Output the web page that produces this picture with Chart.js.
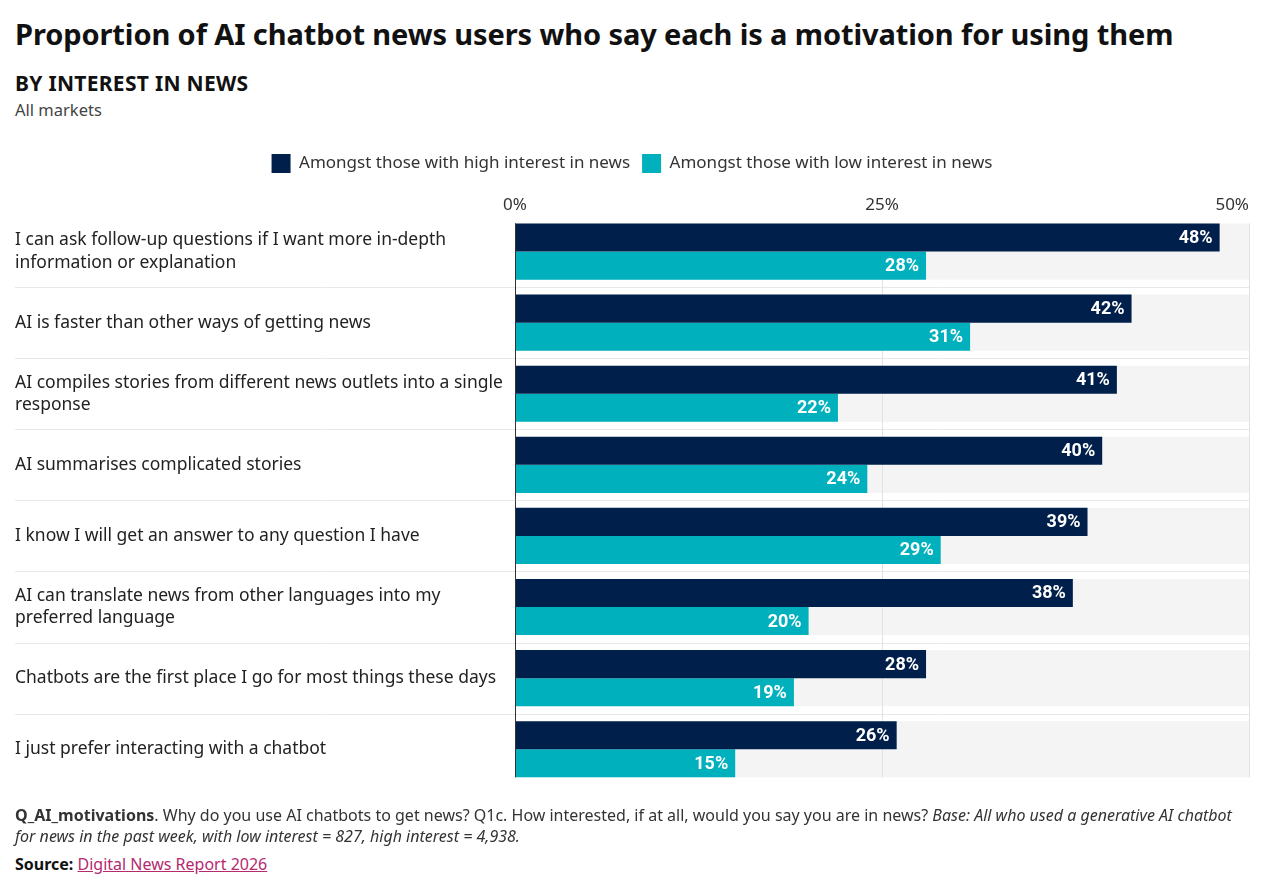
<!DOCTYPE html>
<html>
<head>
<meta charset="utf-8">
<script src="https://cdn.jsdelivr.net/npm/chart.js@4.4.1/dist/chart.umd.min.js"></script>
<style>
  body { margin: 0; background: #fff; font-family: "Noto Sans", sans-serif; color: #111; }
  .wrap { position: relative; width: 1280px; height: 882px; }
  h1 { position: absolute; left: 15px; top: 14px; margin: 0; font-size: 29px; font-weight: 700; color: #111; letter-spacing: -0.1px; }
  h2 { position: absolute; left: 15px; top: 69px; margin: 0; font-size: 21px; font-weight: 700; color: #111; letter-spacing: 0.3px; }
  .sub { position: absolute; left: 15px; top: 98px; font-size: 16.5px; color: #444; }
  .chart { position: absolute; left: 0; top: 142px; width: 1280px; height: 668px; }
  .note { position: absolute; left: 15px; top: 805px; width: 1240px; font-size: 16px; line-height: 21px; color: #333; }
  .src { position: absolute; left: 15px; top: 853px; font-size: 16px; color: #111; }
  .src a { color: #b5296f; }
</style>
</head>
<body>
<div class="wrap">
  <h1>Proportion of AI chatbot news users who say each is a motivation for using them</h1>
  <h2>BY INTEREST IN NEWS</h2>
  <div class="sub">All markets</div>
  <div class="chart"><canvas id="myChart"></canvas></div>
  <div class="note"><b>Q_AI_motivations</b>. Why do you use AI chatbots to get news? Q1c. How interested, if at all, would you say you are in news? <i>Base: All who used a generative AI chatbot for news in the past week, with low interest = 827, high interest = 4,938.</i></div>
  <div class="src"><b>Source:</b> <a href="#">Digital News Report 2026</a></div>
</div>
<script>
const motivations = [
    ['I can ask follow-up questions if I want more in-depth', 'information or explanation'],
    'AI is faster than other ways of getting news',
    ['AI compiles stories from different news outlets into a single', 'response'],
    'AI summarises complicated stories',
    'I know I will get an answer to any question I have',
    ['AI can translate news from other languages into my', 'preferred language'],
    'Chatbots are the first place I go for most things these days',
    'I just prefer interacting with a chatbot'
]
const highInterest = [48, 42, 41, 40, 39, 38, 28, 26]
const lowInterest = [28, 31, 22, 24, 29, 20, 19, 15]
const xTicks = [0, 25, 50]

const navy = '#00204b'
const teal = '#00b1bd'

// grey bands, separators, gridlines, 0% axis line, tick and value labels
const backdrop = {
    id: 'backdrop',
    beforeDatasetsDraw(chart) {
        const ctx = chart.ctx
        const x = chart.scales.x
        const hi = chart.getDatasetMeta(0).data
        const lo = chart.getDatasetMeta(1).data
        const x0 = x.getPixelForValue(0)
        const x50 = x.getPixelForValue(50)
        ctx.save()
        for (let i = 0; i < hi.length; i++) {
            const top = hi[i].y - hi[i].height / 2
            const bottom = lo[i].y + lo[i].height / 2
            ctx.fillStyle = '#f4f4f4'
            ctx.fillRect(x0, top, x50 - x0, bottom - top)
            if (i < hi.length - 1) {
                const next = hi[i + 1].y - hi[i + 1].height / 2
                const mid = Math.round((bottom + next) / 2) + 0.5
                ctx.strokeStyle = '#e8e8e8'
                ctx.lineWidth = 1
                ctx.beginPath()
                ctx.moveTo(15, mid)
                ctx.lineTo(x50, mid)
                ctx.stroke()
            }
        }
        ctx.strokeStyle = '#e2e2e2'
        for (const v of [25, 50]) {
            const px = Math.round(x.getPixelForValue(v)) + 0.5
            ctx.beginPath()
            ctx.moveTo(px, hi[0].y - hi[0].height / 2)
            ctx.lineTo(px, lo[lo.length - 1].y + lo[lo.length - 1].height / 2)
            ctx.stroke()
        }

        // x tick labels, last one kept inside the plot
        ctx.fillStyle = '#333'
        ctx.font = '17px "Noto Sans"'
        ctx.textBaseline = 'middle'
        xTicks.forEach(function (v, i) {
            ctx.textAlign = i === xTicks.length - 1 ? 'right' : 'center'
            ctx.fillText(v + '%', x.getPixelForValue(v), chart.chartArea.top - 11)
        })
        ctx.restore()
    },
    afterDatasetsDraw(chart) {
        const ctx = chart.ctx
        const x = chart.scales.x
        const hi = chart.getDatasetMeta(0).data
        const lo = chart.getDatasetMeta(1).data
        ctx.save()
        const px = Math.round(x.getPixelForValue(0)) + 0.5
        ctx.strokeStyle = '#333'
        ctx.lineWidth = 1
        ctx.beginPath()
        ctx.moveTo(px, hi[0].y - hi[0].height / 2)
        ctx.lineTo(px, lo[lo.length - 1].y + lo[lo.length - 1].height / 2)
        ctx.stroke()

        ctx.fillStyle = '#fff'
        ctx.font = 'bold 18px Roboto'
        ctx.textAlign = 'right'
        ctx.textBaseline = 'middle'
        chart.data.datasets.forEach(function (ds, d) {
            chart.getDatasetMeta(d).data.forEach(function (bar, i) {
                ctx.fillText(ds.data[i] + '%', bar.x - 7, bar.y + 1)
            })
        })
        ctx.restore()
    }
}

const chart = new Chart(document.getElementById('myChart'), {
    type: 'bar',
    data: {
        labels: motivations,
        datasets: [
            { label: 'Amongst those with high interest in news', data: highInterest, backgroundColor: navy },
            { label: 'Amongst those with low interest in news', data: lowInterest, backgroundColor: teal }
        ]
    },
    options: {
        indexAxis: 'y',
        responsive: true,
        maintainAspectRatio: false,
        animation: false,
        datasets: { bar: { categoryPercentage: 0.79, barPercentage: 1.0 } },
        layout: { padding: { left: 15, right: 31, top: 0, bottom: 0 } },
        plugins: {
            legend: {
                position: 'top',
                labels: {
                    boxWidth: 19, boxHeight: 19, padding: 12,
                    color: '#333',
                    font: { family: 'Noto Sans', size: 17 }
                }
            },
            tooltip: { enabled: false }
        },
        scales: {
            x: {
                position: 'top',
                min: 0, max: 50,
                afterFit(scale) { scale.height = 33 },
                grid: { display: false, drawTicks: false },
                border: { display: false },
                ticks: { display: false }
            },
            y: {
                grid: { display: false },
                border: { display: false },
                afterFit(scale) { scale.width = 500 },
                ticks: {
                    crossAlign: 'far',
                    color: '#222',
                    font: { family: 'Noto Sans', size: 17.5, lineHeight: 1.27 }
                }
            }
        }
    },
    plugins: [backdrop]
})
</script>
</body>
</html>
